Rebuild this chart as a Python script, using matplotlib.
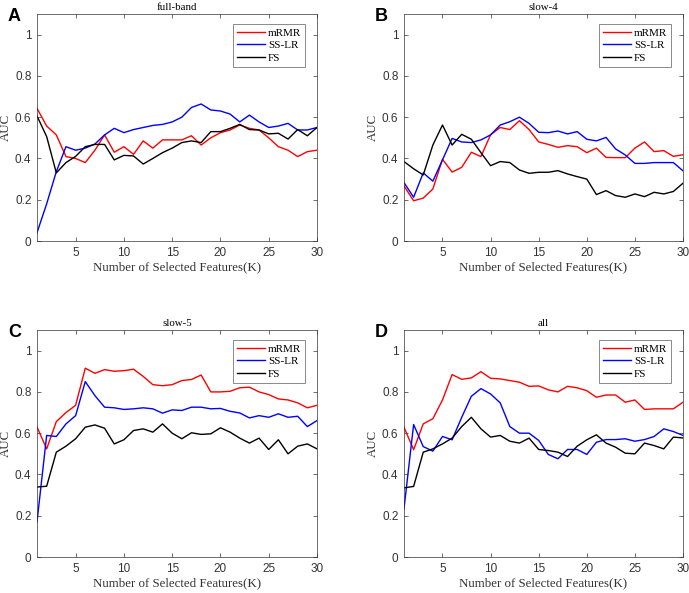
import numpy as np
import matplotlib
matplotlib.use("Agg")
import matplotlib.pyplot as plt

# number of selected features
k_values = list(range(1, 31))

# panel A: full-band
fullband_mrmr = [0.643, 0.557, 0.514, 0.409, 0.40, 0.38, 0.44, 0.514, 0.43, 0.457,
                 0.42, 0.485, 0.45, 0.49, 0.49, 0.49, 0.51, 0.465, 0.50, 0.525,
                 0.538, 0.562, 0.546, 0.538, 0.50, 0.457, 0.44, 0.409, 0.433, 0.44]
fullband_sslr = [0.04, 0.18, 0.336, 0.457, 0.44, 0.45, 0.47, 0.514, 0.546, 0.525,
                 0.54, 0.55, 0.56, 0.565, 0.577, 0.60, 0.647, 0.664, 0.635, 0.63,
                 0.615, 0.577, 0.61, 0.577, 0.55, 0.557, 0.57, 0.538, 0.538, 0.55]
fullband_fs = [0.606, 0.506, 0.33, 0.38, 0.41, 0.457, 0.468, 0.468, 0.393, 0.415,
               0.412, 0.373, 0.40, 0.428, 0.45, 0.477, 0.485, 0.477, 0.53, 0.53,
               0.546, 0.565, 0.54, 0.538, 0.519, 0.522, 0.494, 0.54, 0.51, 0.55]

# panel B: slow-4
slow4_mrmr = [0.267, 0.195, 0.208, 0.252, 0.396, 0.334, 0.357, 0.43, 0.409, 0.515,
              0.55, 0.54, 0.583, 0.54, 0.48, 0.468, 0.454, 0.462, 0.457, 0.428,
              0.45, 0.405, 0.404, 0.404, 0.45, 0.48, 0.433, 0.438, 0.41, 0.418]
slow4_sslr = [0.283, 0.212, 0.33, 0.29, 0.393, 0.497, 0.48, 0.477, 0.49, 0.514,
              0.562, 0.578, 0.60, 0.57, 0.527, 0.525, 0.533, 0.519, 0.53, 0.493,
              0.485, 0.502, 0.446, 0.417, 0.376, 0.376, 0.38, 0.38, 0.38, 0.34]
slow4_fs = [0.385, 0.35, 0.32, 0.465, 0.562, 0.465, 0.517, 0.493, 0.428, 0.365,
            0.385, 0.38, 0.344, 0.328, 0.333, 0.333, 0.341, 0.325, 0.312, 0.30,
            0.225, 0.244, 0.22, 0.212, 0.228, 0.215, 0.236, 0.228, 0.24, 0.28]

# panel C: slow-5
slow5_mrmr = [0.63, 0.524, 0.656, 0.70, 0.735, 0.915, 0.89, 0.908, 0.90, 0.903,
              0.91, 0.875, 0.835, 0.83, 0.835, 0.855, 0.86, 0.882, 0.80, 0.80,
              0.803, 0.82, 0.823, 0.80, 0.787, 0.766, 0.761, 0.747, 0.723, 0.735]
slow5_sslr = [0.17, 0.589, 0.584, 0.645, 0.685, 0.85, 0.782, 0.726, 0.723, 0.715,
              0.718, 0.723, 0.718, 0.697, 0.713, 0.71, 0.726, 0.726, 0.718, 0.72,
              0.706, 0.698, 0.674, 0.685, 0.677, 0.694, 0.677, 0.682, 0.632, 0.661]
slow5_fs = [0.339, 0.343, 0.508, 0.537, 0.573, 0.629, 0.64, 0.624, 0.548, 0.568,
            0.613, 0.621, 0.605, 0.645, 0.60, 0.573, 0.602, 0.594, 0.597, 0.626,
            0.605, 0.576, 0.552, 0.576, 0.521, 0.568, 0.50, 0.537, 0.548, 0.524]

# panel D: all
all_mrmr = [0.629, 0.52, 0.645, 0.67, 0.761, 0.884, 0.861, 0.868, 0.898, 0.866,
            0.863, 0.855, 0.847, 0.827, 0.829, 0.81, 0.80, 0.827, 0.82, 0.806,
            0.774, 0.785, 0.785, 0.75, 0.761, 0.715, 0.718, 0.718, 0.718, 0.75]
all_sslr = [0.234, 0.642, 0.535, 0.513, 0.584, 0.568, 0.677, 0.779, 0.816, 0.79,
            0.747, 0.632, 0.60, 0.60, 0.565, 0.497, 0.476, 0.521, 0.521, 0.497,
            0.556, 0.569, 0.569, 0.573, 0.561, 0.569, 0.584, 0.621, 0.608, 0.589]
all_fs = [0.335, 0.342, 0.508, 0.524, 0.548, 0.576, 0.632, 0.677, 0.621, 0.581,
          0.589, 0.561, 0.552, 0.576, 0.521, 0.516, 0.508, 0.487, 0.537, 0.568,
          0.592, 0.552, 0.532, 0.503, 0.50, 0.552, 0.540, 0.524, 0.581, 0.577]

panel_letters = ["A", "B", "C", "D"]
panel_titles = ["full-band", "slow-4", "slow-5", "all"]
method_names = ["mRMR", "SS-LR", "FS"]
method_colors = ["#ff0000", "#0000ff", "#000000"]

panels = [
    (fullband_mrmr, fullband_sslr, fullband_fs),
    (slow4_mrmr, slow4_sslr, slow4_fs),
    (slow5_mrmr, slow5_sslr, slow5_fs),
    (all_mrmr, all_sslr, all_fs),
]

W, H = 689, 593
fig = plt.figure(figsize=(W / 100, H / 100), dpi=100)

# axes boxes in pixels: left, top, right, bottom
boxes = [(37, 14, 317, 241), (404, 14, 683, 241),
         (37, 330, 317, 557), (404, 330, 683, 557)]

serif = ["Liberation Serif", "DejaVu Serif"]
sans = ["Liberation Sans", "DejaVu Sans"]
axis_grey = "#333333"

for i, (series, box) in enumerate(zip(panels, boxes)):
    l, t, r, b = box
    ax = fig.add_axes([l / W, 1 - b / H, (r - l) / W, (b - t) / H])

    for vals, name, col in zip(series, method_names, method_colors):
        ax.plot(k_values, vals, color=col, linewidth=1.0, label=name)

    ax.set_xlim(1, 30)
    ax.set_ylim(0, 1.1)
    ax.set_xticks([5, 10, 15, 20, 25, 30])
    ax.set_yticks([0, 0.2, 0.4, 0.6, 0.8, 1.0])
    ax.set_yticklabels(["0", "0.2", "0.4", "0.6", "0.8", "1"])
    ax.tick_params(direction="in", top=True, right=True, length=3,
                   width=0.5, colors=axis_grey, labelsize=8.5, pad=4)
    for lab in ax.get_xticklabels() + ax.get_yticklabels():
        lab.set_family(sans)
    for sp in ax.spines.values():
        sp.set_color(axis_grey)
        sp.set_linewidth(0.5)

    ax.set_xlabel("Number of Selected Features(K)", family=serif,
                  fontsize=9.3, color=axis_grey, labelpad=2)
    ax.set_ylabel("AUC", family=serif, fontsize=9.3, color=axis_grey,
                  labelpad=2)
    ax.set_title(panel_titles[i], family=serif, fontsize=7.8, pad=3)

    leg = ax.legend(loc="upper right", bbox_to_anchor=(0.957, 0.956),
                    prop={"family": serif, "size": 8}, frameon=True,
                    fancybox=False, handlelength=2.5, handletextpad=0.25,
                    borderpad=0.35, labelspacing=0.25, borderaxespad=0)
    leg.get_frame().set_edgecolor(axis_grey)
    leg.get_frame().set_linewidth(0.5)

    fig.text((l - 29) / W, 1 - (t + 7) / H, panel_letters[i], family=sans,
             fontsize=13, fontweight="bold", va="baseline", ha="left")

fig.savefig("out.png", dpi=100, facecolor="white")
